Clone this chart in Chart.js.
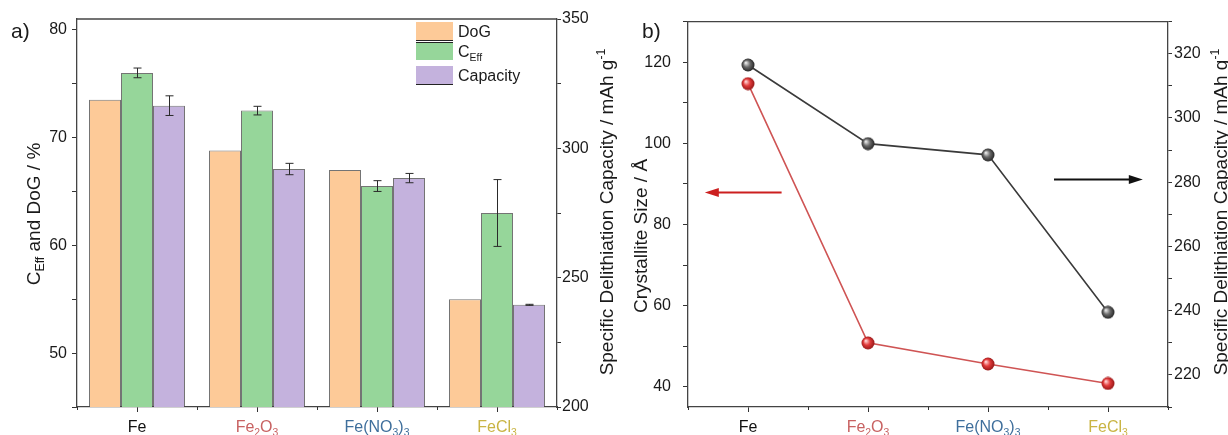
<!DOCTYPE html>
<html>
<head>
<meta charset="utf-8">
<script src="https://cdn.jsdelivr.net/npm/chart.js@4.4.1/dist/chart.umd.min.js"></script>
<style>
    html, body { margin: 0; padding: 0; background: #fff; }
    #wrap { position: relative; width: 1228px; height: 435px; }
    canvas { position: absolute; top: 0; }
</style>
</head>
<body>
<div id="wrap">
    <canvas id="chartA" width="622" height="435" style="left:0px"></canvas>
    <canvas id="chartB" width="606" height="435" style="left:622px"></canvas>
</div>
<script>
// data
const categories = ['Fe', 'Fe2O3', 'Fe(NO3)3', 'FeCl3'];
const categoryColors = ['#111111', '#c86262', '#3f6f9c', '#c9b443'];
const dog = [73.5, 68.8, 67.0, 55.0];                 // %
const cEff = [76.0, 72.5, 65.5, 63.0];                // %
const cEffErr = [0.45, 0.4, 0.5, 3.1];
const capacity = [316.5, 292.0, 288.5, 239.5];        // mAh g-1
const capacityErr = [3.8, 2.2, 1.8, 0.2];
const crystallite = [114.7, 50.8, 45.6, 40.8];        // Angstrom

const FONT = '"Liberation Sans", Arial, Helvetica, sans-serif';
const TEXT = '#1a1a1a';
const FRAME = '#444';

function fontStr(size) {
    return size + 'px ' + FONT;
}

// text made of normal / sub / sup pieces
function richWidth(ctx, parts, size) {
    let w = 0;
    parts.forEach(p => {
        ctx.font = fontStr(p.sub || p.sup ? size * 0.65 : size);
        w += ctx.measureText(p.t).width;
    });
    return w;
}

function drawRich(ctx, parts, x, y, size, align) {
    const w = richWidth(ctx, parts, size);
    let cx = align === 'center' ? x - w / 2 : x;
    ctx.textAlign = 'left';
    ctx.textBaseline = 'alphabetic';
    parts.forEach(p => {
        const s = p.sub || p.sup ? size * 0.65 : size;
        ctx.font = fontStr(s);
        const dy = p.sub ? size * 0.22 : (p.sup ? -size * 0.42 : 0);
        ctx.fillText(p.t, cx, y + dy);
        cx += ctx.measureText(p.t).width;
    });
}

function formulaParts(s) {
    return s.split(/(\d+)/).filter(t => t !== '').map(t => ({t: t, sub: /^\d+$/.test(t)}));
}

function drawVerticalTitle(ctx, parts, x, y, size) {
    ctx.save();
    ctx.translate(x, y);
    ctx.rotate(-Math.PI / 2);
    ctx.fillStyle = TEXT;
    drawRich(ctx, parts, 0, size * 0.36, size, 'center');
    ctx.restore();
}

// frame, minor x ticks and coloured category labels, shared by both panels
function drawFrameAndLabels(chart) {
    const ctx = chart.ctx;
    const area = chart.chartArea;
    const xs = chart.scales.x;
    ctx.save();
    ctx.strokeStyle = FRAME;
    ctx.lineWidth = 1.3;
    ctx.beginPath();
    ctx.moveTo(area.left, area.top);
    ctx.lineTo(area.right, area.top);
    ctx.stroke();
    ctx.lineWidth = 1;
    ctx.strokeStyle = '#333';
    for (let i = 0; i <= categories.length; i++) {
        const x = Math.round(xs.getPixelForValue(i - 0.5)) + 0.5;
        ctx.beginPath();
        ctx.moveTo(x, area.bottom);
        ctx.lineTo(x, area.bottom + 3);
        ctx.stroke();
    }
    categories.forEach((c, i) => {
        ctx.fillStyle = categoryColors[i];
        drawRich(ctx, formulaParts(c), xs.getPixelForValue(i), 432, 16, 'center');
    });
    ctx.restore();
}

function yAxis(position, min, max, step, every, width, pad, tickLen) {
    return {
        type: 'linear',
        position: position,
        min: min,
        max: max,
        afterFit: function (scale) { scale.width = width; },
        grid: {drawOnChartArea: false, tickLength: tickLen, color: '#333'},
        border: {color: FRAME, width: 1.3},
        ticks: {
            stepSize: step,
            includeBounds: false,
            padding: pad,
            color: TEXT,
            font: {family: FONT, size: 16},
            callback: function (v) { return v % every === 0 ? v : ''; }
        }
    };
}

function xAxis() {
    return {
        offset: true,
        afterFit: function (scale) { scale.height = 28; },
        grid: {offset: false, drawOnChartArea: false, tickLength: 5, color: '#333'},
        border: {color: FRAME, width: 1.3},
        ticks: {display: false}
    };
}

// ---------- panel a ----------
const errorBars = {
    id: 'errorBars',
    afterDatasetsDraw(chart) {
        const ctx = chart.ctx;
        ctx.save();
        ctx.strokeStyle = '#2a2a2a';
        ctx.lineWidth = 1;
        chart.data.datasets.forEach((ds, di) => {
            if (!ds.errors) return;
            const meta = chart.getDatasetMeta(di);
            const scale = chart.scales[ds.yAxisID];
            meta.data.forEach((bar, i) => {
                const x = Math.round(bar.x) + 0.5;
                const top = scale.getPixelForValue(ds.data[i] + ds.errors[i]);
                const bot = scale.getPixelForValue(ds.data[i] - ds.errors[i]);
                ctx.beginPath();
                ctx.moveTo(x, top); ctx.lineTo(x, bot);
                ctx.moveTo(x - 4, top); ctx.lineTo(x + 4, top);
                ctx.moveTo(x - 4, bot); ctx.lineTo(x + 4, bot);
                ctx.stroke();
            });
        });
        ctx.restore();
    }
};

const panelA = {
    id: 'panelA',
    afterDraw(chart) {
        const ctx = chart.ctx;
        drawFrameAndLabels(chart);
        ctx.save();
        ctx.fillStyle = TEXT;
        ctx.font = fontStr(21);
        ctx.textAlign = 'left';
        ctx.fillText('a)', 11, 38);
        drawVerticalTitle(ctx, [{t: 'C'}, {t: 'Eff', sub: true}, {t: ' and DoG / %'}], 33, 214, 19);
        drawVerticalTitle(ctx, [{t: 'Specific Delithiation Capacity / mAh g'}, {t: '-1', sup: true}], 606, 212, 19);

        // legend
        const rows = [
            {parts: [{t: 'DoG'}], ds: 0, line: 'bottom'},
            {parts: [{t: 'C'}, {t: 'Eff', sub: true}], ds: 1, line: 'top'},
            {parts: [{t: 'Capacity'}], ds: 2, line: 'bottom'}
        ];
        const boxY = [22, 42, 66];
        rows.forEach((r, k) => {
            const y = boxY[k];
            ctx.fillStyle = chart.data.datasets[r.ds].backgroundColor;
            ctx.fillRect(416, y, 37, 18);
            ctx.strokeStyle = '#222';
            ctx.lineWidth = 1;
            ctx.beginPath();
            const ly = r.line === 'top' ? y + 0.5 : y + 18.5;
            ctx.moveTo(416, ly); ctx.lineTo(453, ly);
            ctx.stroke();
            ctx.fillStyle = TEXT;
            drawRich(ctx, r.parts, 458, y + 15, 16, 'left');
        });
        ctx.restore();
    }
};

new Chart(document.getElementById('chartA'), {
    type: 'bar',
    data: {
        labels: categories,
        datasets: [
            {label: 'DoG', data: dog, yAxisID: 'y', backgroundColor: 'rgb(253,202,152)'},
            {label: 'CEff', data: cEff, errors: cEffErr, yAxisID: 'y', backgroundColor: 'rgb(150,214,154)'},
            {label: 'Capacity', data: capacity, errors: capacityErr, yAxisID: 'y2', backgroundColor: 'rgb(196,178,221)'}
        ]
    },
    options: {
        responsive: false,
        animation: false,
        devicePixelRatio: 1,
        layout: {padding: {top: 19, left: 0, right: 0, bottom: 0}},
        datasets: {
            bar: {
                categoryPercentage: 0.8,
                barPercentage: 1.0,
                borderColor: 'rgba(70,70,70,0.75)',
                borderWidth: 1
            }
        },
        scales: {
            x: xAxis(),
            y: yAxis('left', 45, 81, 5, 10, 77, 5, 5),
            y2: yAxis('right', 200, 350, 25, 50, 65, 1, 4)
        },
        plugins: {
            legend: {display: false},
            tooltip: {enabled: false}
        }
    },
    plugins: [errorBars, panelA]
});

// ---------- panel b ----------
function makeBall(light, mid, dark) {
    const c = document.createElement('canvas');
    c.width = 14; c.height = 14;
    const g = c.getContext('2d');
    const grad = g.createRadialGradient(4.8, 4.8, 0.5, 7, 7, 7);
    grad.addColorStop(0, light);
    grad.addColorStop(0.45, mid);
    grad.addColorStop(1, dark);
    g.fillStyle = grad;
    g.beginPath();
    g.arc(7, 7, 6.5, 0, Math.PI * 2);
    g.fill();
    return c;
}

const redBall = makeBall('#ffd0d0', '#e23b3b', '#8e1414');
const greyBall = makeBall('#e6e6e6', '#6a6a6a', '#1e1e1e');

// direction arrows (axis, value, from category index, to category index)
const arrowAxis = ['y', 'y2'];
const arrowValue = [88, 281];
const arrowFrom = [0.28, 2.55];
const arrowTo = [-0.36, 3.29];
const arrowColor = ['#cc1f1f', '#111111'];

const panelB = {
    id: 'panelB',
    afterDraw(chart) {
        const ctx = chart.ctx;
        const xs = chart.scales.x;
        drawFrameAndLabels(chart);
        ctx.save();
        ctx.fillStyle = TEXT;
        ctx.font = fontStr(21);
        ctx.textAlign = 'left';
        ctx.fillText('b)', 20, 38);
        drawVerticalTitle(ctx, [{t: 'Crystallite Size / Å'}], 18, 236, 19);
        drawVerticalTitle(ctx, [{t: 'Specific Delithiation Capacity / mAh g'}, {t: '-1', sup: true}], 598, 212, 19);

        arrowAxis.forEach((ax, k) => {
            const y = Math.round(chart.scales[ax].getPixelForValue(arrowValue[k])) + 0.5;
            const x1 = xs.getPixelForValue(arrowFrom[k]);
            const x2 = xs.getPixelForValue(arrowTo[k]);
            const dir = Math.sign(x2 - x1);
            ctx.strokeStyle = arrowColor[k];
            ctx.fillStyle = arrowColor[k];
            ctx.lineWidth = 2;
            ctx.beginPath();
            ctx.moveTo(x1, y);
            ctx.lineTo(x2 - dir * 10, y);
            ctx.stroke();
            ctx.beginPath();
            ctx.moveTo(x2, y);
            ctx.lineTo(x2 - dir * 14, y - 4.5);
            ctx.lineTo(x2 - dir * 14, y + 4.5);
            ctx.closePath();
            ctx.fill();
        });
        ctx.restore();
    }
};

new Chart(document.getElementById('chartB'), {
    type: 'line',
    data: {
        labels: categories,
        datasets: [
            {
                label: 'Crystallite Size',
                data: crystallite,
                yAxisID: 'y',
                borderColor: '#cf5454',
                pointStyle: redBall
            },
            {
                label: 'Specific Delithiation Capacity',
                data: capacity,
                yAxisID: 'y2',
                borderColor: '#3a3a3a',
                pointStyle: greyBall
            }
        ]
    },
    options: {
        responsive: false,
        animation: false,
        devicePixelRatio: 1,
        layout: {padding: {top: 19, left: 0, right: 0, bottom: 0}},
        datasets: {
            line: {
                borderWidth: 1.6,
                tension: 0,
                pointRadius: 6,
                clip: false
            }
        },
        scales: {
            x: xAxis(),
            y: yAxis('left', 35, 130, 10, 20, 66, 12, 5),
            y2: yAxis('right', 210, 330, 10, 20, 60, 2, 4)
        },
        plugins: {
            legend: {display: false},
            tooltip: {enabled: false}
        }
    },
    plugins: [panelB]
});
</script>
</body>
</html>
